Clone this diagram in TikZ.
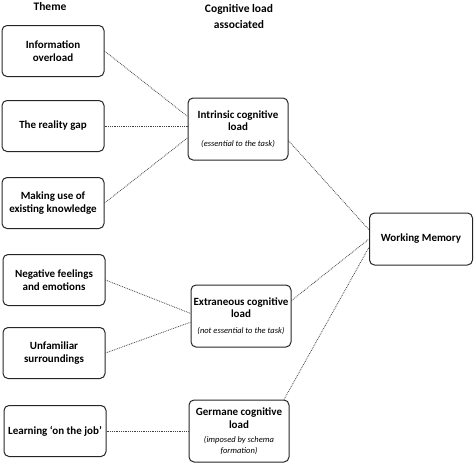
\documentclass[tikz,border=0pt]{standalone}
\usepackage{fontspec}
\setmainfont{Carlito}
\newcommand{\loadnote}[1]{{\mdseries\itshape\fontsize{8.5}{10}\selectfont #1}}
\tikzset{
	theme/.style={draw=black!85, line width=1pt, rounded corners=5pt, minimum width=102pt, minimum height=51pt, inner sep=1pt, align=center, font=\bfseries\fontsize{11}{12.5}\selectfont},
	load/.style={theme, minimum width=100pt, minimum height=62pt},
	head/.style={align=center, font=\bfseries\fontsize{11.5}{16}\selectfont},
	link/.style={densely dotted, draw=black!75, line width=0.8pt}
}
\begin{document}
\begin{tikzpicture}[x=1pt, y=-1pt]
			\useasboundingbox (0,0) rectangle (474,463);
			\def \hor{ 1 };
			\def \ver{ 1 };
			% headings
			\node[head] (hTheme) at (50*\hor,7*\ver) {Theme};
			\node[head] (hLoad) at (239*\hor,16*\ver) {Cognitive load\\associated};
			% themes
			\node[theme] (info) at (53*\hor,51*\ver) {Information\\overload};
			\node[theme] (gap) at (53*\hor,126*\ver) {The reality gap};
			\node[theme] (know) at (53*\hor,203*\ver) {Making use of\\existing knowledge};
			\node[theme] (feel) at (54*\hor,280*\ver) {Negative feelings\\and emotions};
			\node[theme] (surr) at (54*\hor,353*\ver) {Unfamiliar\\surroundings};
			\node[theme] (job) at (55*\hor,431*\ver) {Learning `on the job'};
			% loads
			\node[load] (intr) at (238*\hor,129*\ver) {Intrinsic cognitive\\load\\[3pt]\loadnote{(essential to the task)}};
			\node[load] (extr) at (241*\hor,316*\ver) {Extraneous cognitive\\load\\[3pt]\loadnote{(not essential to the task)}};
			\node[load] (germ) at (239*\hor,431*\ver) {Germane cognitive\\load\\[2pt]\loadnote{(imposed by schema}\\[-2pt]\loadnote{formation)}};
			\node[theme, minimum width=103pt, minimum height=52pt] (wm) at (421*\hor,239*\ver) {Working Memory};
			% links
			\draw[link] (info.east) -- (intr.166);
			\draw[link] (gap.east) -- (intr.west |- gap.east);
			\draw[link] (know.east) -- (intr.190);
			\draw[link] (feel.east) -- (extr.177);
			\draw[link] (surr.east) -- (extr.187);
			\draw[link] (job.east) -- (germ.west |- job.east);
			\draw[link] (intr.-13) -- (wm.170);
			\draw[link] (extr.17) -- (wm.west);
			\draw[link] (germ.35) -- (wm.189);
		\end{tikzpicture}
\end{document}
